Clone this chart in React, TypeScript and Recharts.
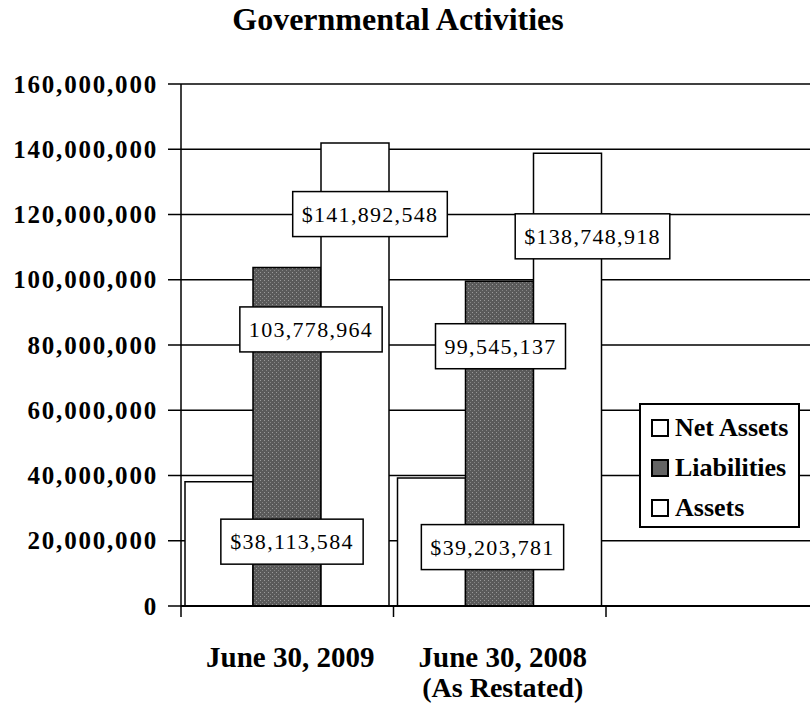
import { BarChart, Bar, XAxis, YAxis, CartesianGrid, LabelList } from "recharts";

const CATEGORIES = ["June 30, 2009", "June 30, 2008", ""];
const CATEGORY_NOTES = ["", "(As Restated)", ""];
const NET_ASSETS = [38113584, 39203781, null];
const LIABILITIES = [103778964, 99545137, null];
const ASSETS = [141892548, 138748918, null];
const Y_TICKS = [0, 20000000, 40000000, 60000000, 80000000, 100000000, 120000000, 140000000, 160000000];
const SERIES_NAMES = ["Net Assets", "Liabilities", "Assets"];

const data = CATEGORIES.map((name, i) => ({
  name,
  note: CATEGORY_NOTES[i],
  net: NET_ASSETS[i],
  liab: LIABILITIES[i],
  assets: ASSETS[i],
}));

const FONT = '"Liberation Serif", "Times New Roman", serif';
const INK = "#000";
const GRAY = "#646464";

const CHART_W = 830;
const CHART_H = 704;
const Y_AXIS_W = 181;
const PLOT_TOP = 84;
const X_AXIS_H = 98;
const BAND = 212.5;
const PLOT_BOTTOM = CHART_H - X_AXIS_H;

// label offsets from the top-centre of each bar (the original has hand-placed labels)
const LABEL_DX = { net: [73, 61], liab: [24, 1], assets: [15, 25] };
const LABEL_DY = { net: [60, 69], liab: [62, 65], assets: [71, 83] };

const fmt = (v: number) => Number(v).toLocaleString("en-US");

function textWidth(s: string, size: number, spacing: number) {
  let w = 0;
  for (const ch of s) w += (ch === "," ? 0.25 : 0.5) * size + spacing;
  return w;
}

function makeLabel(key: "net" | "liab" | "assets", prefix: string) {
  return (props: any) => {
    const { x, y, width, value, index } = props;
    if (value == null) return null;
    const text = prefix + fmt(value);
    const cx = Number(x) + Number(width) / 2 + LABEL_DX[key][index];
    const cy = Number(y) + LABEL_DY[key][index];
    const w = textWidth(text, 22, 1.3) + 18;
    const h = 45;
    return (
      <g>
        <rect x={cx - w / 2} y={cy - h / 2} width={w} height={h} fill="#fff" stroke={INK} strokeWidth={1.5} />
        <text
          x={cx}
          y={cy}
          textAnchor="middle"
          dominantBaseline="central"
          fontFamily={FONT}
          fontSize={22}
          style={{ letterSpacing: 1.3 }}
          fill={INK}
        >
          {text}
        </text>
      </g>
    );
  };
}

function YTick(props: any) {
  const { x, y, payload } = props;
  return (
    <text
      x={x}
      y={y}
      textAnchor="end"
      dominantBaseline="central"
      fontFamily={FONT}
      fontWeight="bold"
      fontSize={25}
      style={{ letterSpacing: 1.8 }}
      fill={INK}
    >
      {fmt(payload.value)}
    </text>
  );
}

function XTick(props: any) {
  const { x, index } = props;
  const left = x - BAND / 2;
  return (
    <g>
      <line x1={left} x2={left} y1={PLOT_BOTTOM} y2={PLOT_BOTTOM + 11} stroke={INK} strokeWidth={1.5} />
      <text x={x + 3} y={PLOT_BOTTOM + 61} textAnchor="middle" fontFamily={FONT} fontWeight="bold" fontSize={29} fill={INK}>
        {CATEGORIES[index]}
      </text>
      <text x={x + 3} y={PLOT_BOTTOM + 91} textAnchor="middle" fontFamily={FONT} fontWeight="bold" fontSize={28} fill={INK}>
        {CATEGORY_NOTES[index]}
      </text>
    </g>
  );
}

function LegendBox() {
  const fills = ["#fff", GRAY, "#fff"];
  return (
    <div
      style={{
        position: "absolute",
        left: 639,
        top: 403,
        border: `2px solid ${INK}`,
        background: "#fff",
        boxSizing: "border-box",
        width: 161,
        height: 125,
        padding: "3px 0 0 10px",
        fontFamily: FONT,
        fontWeight: "bold",
        fontSize: 26,
        color: INK,
      }}
    >
      {SERIES_NAMES.map((name, i) => (
        <div key={name} style={{ display: "flex", alignItems: "center", height: 40 }}>
          <span
            style={{
              display: "inline-block",
              width: 14,
              height: 14,
              border: `2px solid ${INK}`,
              background: fills[i],
              marginRight: 6,
            }}
          />
          {name}
        </div>
      ))}
    </div>
  );
}

export default function App() {
  return (
    <div style={{ position: "fixed", left: 0, top: 0, width: 810, height: 704, overflow: "hidden", background: "#fff" }}>
      <div
        style={{
          position: "absolute",
          top: 1,
          left: 0,
          width: 796,
          textAlign: "center",
          fontFamily: FONT,
          fontWeight: "bold",
          fontSize: 32,
          color: INK,
        }}
      >
        Governmental Activities
      </div>
      <BarChart
        width={CHART_W}
        height={CHART_H}
        data={data}
        margin={{ top: PLOT_TOP, right: CHART_W - Y_AXIS_W - BAND * 3, left: 0, bottom: 0 }}
        barCategoryGap={4}
        barGap={0}
      >
        <defs>
          <pattern id="liabFill" width="4" height="4" patternUnits="userSpaceOnUse">
            <rect width="4" height="4" fill="#5a5a5a" />
            <rect x="0" y="0" width="1" height="1" fill="#9a9a9a" />
            <rect x="2" y="2" width="1" height="1" fill="#858585" />
          </pattern>
        </defs>
        <CartesianGrid vertical={false} stroke={INK} strokeWidth={1.5} />
        <XAxis
          dataKey="name"
          height={X_AXIS_H}
          interval={0}
          tickLine={false}
          axisLine={{ stroke: INK, strokeWidth: 2 }}
          tick={<XTick />}
        />
        <YAxis
          width={Y_AXIS_W}
          domain={[0, 160000000]}
          ticks={Y_TICKS}
          tickSize={13}
          tickMargin={10}
          tickLine={{ stroke: INK, strokeWidth: 1.5 }}
          axisLine={{ stroke: INK, strokeWidth: 1.5 }}
          tick={<YTick />}
        />
        <Bar dataKey="net" name="Net Assets" fill="#fff" stroke={INK} strokeWidth={1.5} isAnimationActive={false}>
          <LabelList dataKey="net" content={makeLabel("net", "$")} />
        </Bar>
        <Bar dataKey="liab" name="Liabilities" fill="url(#liabFill)" stroke={INK} strokeWidth={1.5} isAnimationActive={false}>
          <LabelList dataKey="liab" content={makeLabel("liab", "")} />
        </Bar>
        <Bar dataKey="assets" name="Assets" fill="#fff" stroke={INK} strokeWidth={1.5} isAnimationActive={false}>
          <LabelList dataKey="assets" content={makeLabel("assets", "$")} />
        </Bar>
      </BarChart>
      <LegendBox />
    </div>
  );
}
